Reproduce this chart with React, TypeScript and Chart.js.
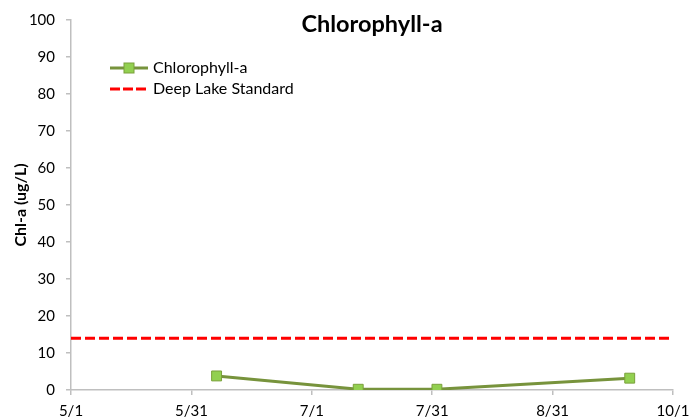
import React, { useEffect, useRef } from 'react';
import { Chart, registerables } from 'chart.js';
Chart.register(...registerables);

const chartTitle = 'Chlorophyll-a';
const yAxisTitle = 'Chl-a (ug/L)';
const xTickLabels = ['5/1', '5/31', '7/1', '7/31', '8/31', '10/1'];
const seasonStart = '5/1';
const seasonEnd = '10/1';
const sampleDates = ['6/7', '7/13', '8/2', '9/20'];
const chlA = [3.8, 0.2, 0.2, 3.2];
const standardValue = 14;
const seriesNames = ['Chlorophyll-a', 'Deep Lake Standard'];

const monthOffset: Record<number, number> = { 5: 0, 6: 31, 7: 61, 8: 92, 9: 123, 10: 153 };
const dayOf = (md: string) => {
  const [m, d] = md.split('/').map(Number);
  return monthOffset[m] + d - 1;
};

const FONT = 'Lato, "Open Sans", sans-serif';
const GREEN = '#77933c';
const LIGHT_GREEN = '#92d050';
const MARKER_EDGE = '#7aa03a';
const RED = '#ff0000';
const AXIS = '#bfbfbf';

export default function App() {
  const ref = useRef<HTMLCanvasElement>(null);
  useEffect(() => {
    document.body.style.margin = '0';
    const xMin = dayOf(seasonStart);
    const xMax = dayOf(seasonEnd);
    const tickVals = xTickLabels.map((_, i) => xMin + (i * (xMax - xMin)) / (xTickLabels.length - 1));

    const overlay = {
      id: 'overlay',
      afterDraw(chart: any) {
        const ctx = chart.ctx;
        const area = chart.chartArea;
        ctx.save();
        ctx.fillStyle = '#000';
        ctx.font = `bold 23.5px ${FONT}`;
        ctx.textAlign = 'center';
        ctx.textBaseline = 'middle';
        ctx.fillText(chartTitle, (area.left + area.right) / 2, 24);

        // legend
        ctx.font = `16px ${FONT}`;
        ctx.textAlign = 'left';
        const lx0 = 110, lx1 = 148, tx = 153;
        let y = 68;
        ctx.strokeStyle = GREEN;
        ctx.lineWidth = 3;
        ctx.setLineDash([]);
        ctx.beginPath();
        ctx.moveTo(lx0, y);
        ctx.lineTo(lx1, y);
        ctx.stroke();
        ctx.fillStyle = LIGHT_GREEN;
        ctx.fillRect(124, y - 5, 10, 10);
        ctx.lineWidth = 1;
        ctx.strokeStyle = MARKER_EDGE;
        ctx.strokeRect(124, y - 5, 10, 10);
        ctx.fillStyle = '#000';
        ctx.fillText(seriesNames[0], tx, y);
        y = 89;
        ctx.strokeStyle = RED;
        ctx.lineWidth = 3;
        ctx.setLineDash([10, 3]);
        ctx.beginPath();
        ctx.moveTo(lx0, y);
        ctx.lineTo(lx1, y);
        ctx.stroke();
        ctx.setLineDash([]);
        ctx.fillStyle = '#000';
        ctx.fillText(seriesNames[1], tx, y);
        ctx.restore();
      },
    };

    const chart = new Chart(ref.current!, {
      type: 'line',
      data: {
        datasets: [
          {
            label: seriesNames[1],
            data: [
              { x: xMin, y: standardValue },
              { x: xMax, y: standardValue },
            ],
            borderColor: RED,
            borderWidth: 3,
            borderDash: [10, 4],
            pointRadius: 0,
            fill: false,
          },
          {
            label: seriesNames[0],
            data: sampleDates.map((d, i) => ({ x: dayOf(d), y: chlA[i] })),
            borderColor: GREEN,
            borderWidth: 3,
            pointStyle: 'rect',
            pointRadius: 7,
            pointBackgroundColor: LIGHT_GREEN,
            pointBorderColor: MARKER_EDGE,
            pointBorderWidth: 1,
            fill: false,
            tension: 0,
          },
        ],
      },
      options: {
        responsive: false,
        animation: false,
        devicePixelRatio: 1,
        layout: { padding: { top: 20, right: 19, bottom: 0, left: 0 } },
        plugins: { legend: { display: false }, tooltip: { enabled: false }, title: { display: false } },
        scales: {
          x: {
            type: 'linear',
            min: xMin,
            max: xMax,
            afterBuildTicks: (s: any) => {
              s.ticks = tickVals.map((v) => ({ value: v }));
            },
            afterFit: (s: any) => {
              s.height = 29;
              s.paddingLeft = 0;
              s.paddingRight = 0;
            },
            ticks: {
              autoSkip: false,
              maxRotation: 0,
              color: '#000',
              padding: 7,
              font: { family: FONT, size: 15 },
              callback: (_v: any, i: number) => xTickLabels[i],
            },
            grid: { display: true, drawOnChartArea: false, drawTicks: true, tickLength: 5, color: AXIS, lineWidth: 1.5 },
            border: { display: true, color: AXIS, width: 1.5 },
          },
          y: {
            min: 0,
            max: 100,
            afterFit: (s: any) => {
              s.width = 71;
              s.paddingTop = 0;
              s.paddingBottom = 0;
            },
            ticks: {
              stepSize: 10,
              color: '#000',
              padding: 11,
              font: { family: FONT, size: 15 },
            },
            title: {
              display: true,
              text: yAxisTitle,
              color: '#000',
              font: { family: FONT, size: 16, weight: 'bold' },
              padding: { top: 11, bottom: 0 },
            },
            grid: { display: true, drawOnChartArea: false, drawTicks: true, tickLength: 5, color: AXIS, lineWidth: 1.5 },
            border: { display: true, color: AXIS, width: 1.5 },
          },
        },
      },
      plugins: [overlay],
    });
    return () => chart.destroy();
  }, []);
  return <canvas ref={ref} width={692} height={419} style={{ display: 'block' }} />;
}
